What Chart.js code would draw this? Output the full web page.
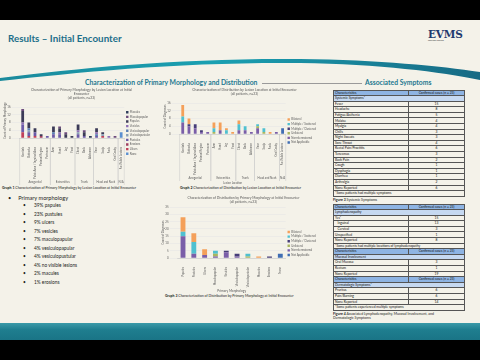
<!DOCTYPE html>
<html lang="en">
<head>
<meta charset="UTF-8" />
<title>Results - Initial Encounter</title>
<script src="https://cdn.jsdelivr.net/npm/chart.js"></script>
<style>
  html, body { margin: 0; padding: 0; }
  body {
    width: 480px; height: 360px; position: relative; overflow: hidden;
    background: #f4f2e9; font-family: Lato, "Open Sans", sans-serif; color: #222;
  }
  .abs { position: absolute; }
  .topbar { left: 0; top: 0; width: 480px; height: 20px; background: #000; }
  .botband { left: 0; top: 323px; width: 480px; height: 17px;
    background: linear-gradient(#3b9aa8, #1f7e8f 40%, #1a7486); }
  .botbar { left: 0; top: 340px; width: 480px; height: 20px; background: #000; }
  .title { left: 8px; top: 32px; font-size: 9.8px; font-weight: 700; color: #1d6f8a; white-space: nowrap; }
  .logo { left: 428px; top: 28px; font-family: "DejaVu Serif", "Liberation Serif", serif; font-weight: 700;
    font-size: 10.5px; color: #1f3a6e; letter-spacing: -0.2px; }
  .logo small { display: block; font-family: Lato, sans-serif; font-weight: 400; font-size: 1.6px; color: #555; margin-top: -1px; }
  .heading { font-size: 6.8px; font-weight: 700; color: #1d7890; white-space: nowrap; }
  .rule { height: 0.7px; background: #9a9a9a; }
  .caption { font-size: 3.5px; color: #222; white-space: nowrap; }
  .caption b { font-weight: 700; }
  .bul { font-size: 5.6px; left: 8px; white-space: nowrap; }
  .sub { font-size: 4.8px; white-space: nowrap; }
  .tbl { position: absolute; left: 333px; width: 131px; border-collapse: collapse; table-layout: fixed;
    font-size: 3.3px; color: #111; }
  .tbl td { border: 0.5px solid #555; height: 4.6px; padding: 0 1px; line-height: 4.5px; white-space: nowrap; overflow: hidden; }
  .tbl td.v { text-align: center; }
  .tbl tr.h td { background: #8eb4e3; }
  .tbl tr.s td { background: #c6d9f1; }
  canvas { position: absolute; }
</style>
</head>
<body>
<div class="abs topbar"></div>
<div class="abs title">Results – Initial Encounter</div>
<div class="abs logo">EVMS<small>Eastern Virginia Medical School</small></div>
<svg class="abs" style="left:0;top:0" width="480" height="100">
  <defs>
    <linearGradient id="sw" x1="0" x2="1" y1="0" y2="0">
      <stop offset="0" stop-color="#1b8a9c" />
      <stop offset="0.45" stop-color="#19a0b2" />
      <stop offset="1" stop-color="#176a84" />
    </linearGradient>
  </defs>
  <path d="M0,78 C80,68 180,58 300,59 C380,60 440,66 480,72 L480,80 C440,72 380,64 300,63 C180,62 80,72 0,81 Z" fill="url(#sw)" />
</svg>

<div class="abs heading" style="left:85px;top:78px">Characterization of Primary Morphology and Distribution</div>
<div class="abs rule" style="left:262px;top:83px;width:64px"></div>
<div class="abs rule" style="left:320px;top:83px;width:42px"></div>
<div class="abs heading" style="left:365px;top:78px">Associated Symptoms</div>

<canvas id="morphLocChart" width="158" height="100" style="left:2px;top:86px"></canvas>
<canvas id="distLocChart" width="164" height="100" style="left:162px;top:86px"></canvas>
<canvas id="distMorphChart" width="166" height="100" style="left:160px;top:194px"></canvas>

<div class="abs caption" style="left:2px;top:186px"><b>Graph 1</b> Characterization of Primary Morphology by Lesion Location at Initial Encounter</div>
<div class="abs caption" style="left:180px;top:186px"><b>Graph 2</b> Characterization of Distribution by Lesion Location at Initial Encounter</div>
<div class="abs caption" style="left:165px;top:294px"><b>Graph 3</b> Characterization of Distribution by Primary Morphology at Initial Encounter</div>

<div id="bullets"></div>

<table class="tbl" id="tbl1" style="top:89.5px"></table>
<div class="abs caption" style="left:333px;top:197.5px"><b>Figure 3</b> Systemic Symptoms</div>
<table class="tbl" id="tbl2" style="top:203.5px"></table>
<div class="abs caption" style="left:333px;top:311.5px;line-height:4.4px"><b>Figure 4</b> Associated Lymphadenopathy, Mucosal Involvement, and<br>Dermatologic Symptoms</div>

<div class="abs botband"></div>
<div class="abs botbar"></div>

<script>
    // lesion locations (graphs 1 and 2)
    locations = ['Genitals', 'Buttocks', 'Pubic Area / Inguinal Area', 'Perianal Region', 'Perineum',
        'Arm', 'Hand', 'Leg', 'Foot', 'Chest', 'Back', 'Abdomen',
        'Face', 'Scalp', 'Neck', 'Oral Cavity', 'No Visible Lesions'];
    locationGroups = ['Anogenital', 'Extremities', 'Trunk', 'Head and Neck', 'N/A'];
    locationGroupSizes = [5, 4, 3, 4, 1];

    // graph 1: primary morphology per location
    macules          = [0, 0, 0, 0, 0, 0, 0, 0, 0, 0, 0, 1, 0, 0, 0, 0, 0];
    maculopapular    = [1, 0, 0, 0, 0, 0, 1, 1, 0, 0, 1, 0, 0, 0, 0, 1, 0];
    papules          = [6, 3, 2, 1, 0, 3, 2, 2, 1, 3, 2, 0, 2, 1, 0, 0, 0];
    vesicles         = [1, 0, 0, 0, 0, 0, 1, 0, 0, 1, 0, 0, 1, 0, 1, 0, 0];
    vesiculopapular  = [0, 1, 0, 0, 0, 1, 0, 0, 0, 0, 0, 0, 1, 0, 0, 0, 0];
    vesiculopustular = [0, 1, 0, 0, 0, 0, 0, 0, 0, 1, 0, 0, 0, 1, 0, 0, 0];
    pustules         = [4, 2, 2, 0, 1, 2, 2, 0, 0, 2, 1, 0, 1, 0, 0, 0, 0];
    erosions         = [0, 0, 0, 1, 0, 0, 0, 0, 0, 0, 0, 0, 0, 0, 0, 0, 0];
    ulcers           = [3, 1, 1, 0, 0, 0, 0, 0, 0, 0, 0, 0, 0, 1, 0, 0, 0];
    noLesion         = [0, 0, 0, 0, 0, 0, 0, 0, 0, 0, 0, 0, 0, 0, 0, 0, 3];

    // graph 2: distribution per location
    locBilateral     = [6, 3, 0, 0, 0, 3, 4, 1, 1, 2, 0, 0, 0, 0, 1, 0, 0];
    locScattered     = [3, 0, 0, 0, 0, 2, 0, 2, 0, 3, 2, 0, 1, 2, 0, 0, 0];
    locClustered     = [0, 1, 2, 1, 0, 0, 0, 0, 0, 0, 0, 0, 0, 0, 0, 0, 0];
    locUnilateral    = [0, 0, 0, 0, 0, 1, 0, 0, 0, 0, 0, 0, 1, 1, 0, 0, 0];
    locNonDermatomal = [6, 4, 3, 1, 1, 0, 2, 0, 0, 2, 2, 1, 3, 0, 0, 1, 0];
    locNotApplicable = [0, 0, 0, 0, 0, 0, 0, 0, 0, 0, 0, 0, 0, 0, 0, 0, 3];

    // graph 3: distribution per primary morphology
    morphologies = ['Papules', 'Pustules', 'Ulcers', 'Maculopapular', 'Vesicles', 'Vesiculopapular',
        'Vesiculopustular', 'Macules', 'Erosions', 'None'];
    morphBilateral     = [10, 6, 4, 0, 0, 0, 0, 1, 0, 0];
    morphScattered     = [3, 8, 0, 2, 0, 0, 2, 0, 0, 0];
    morphClustered     = [0, 0, 0, 0, 1, 2, 0, 0, 1, 0];
    morphUnilateral    = [0, 0, 0, 2, 0, 0, 1, 0, 0, 0];
    morphNonDermatomal = [15, 3, 2, 1, 4, 1, 0, 0, 0, 0];
    morphNotApplicable = [0, 0, 0, 0, 0, 0, 0, 0, 0, 3];

    // bullet list
    morphologyPercents = ['39% papules', '23% pustules', '9% ulcers', '7% vesicles', '7% maculopapular',
        '4% vesiculopapular', '4% vesiculopustular', '4% no visible lesions', '2% macules', '1% erosions'];

    // tables
    systemicRows = [['Fever', 15], ['Headache', 8], ['Fatigue/Asthenia', 5], ['Malaise', 4], ['Myalgia', 4],
        ['Chills', 3], ['Night Sweats', 3], ['Sore Throat', 4], ['Rectal Pain/Proctitis', 6], ['Tenesmus', 3],
        ['Back Pain', 2], ['Cough', 1], ['Dysphagia', 1], ['Diarrhea', 1], ['Arthralgia', 2], ['None Reported', 6]];
    lymphRows = [['Yes*', 15], ['\u00a0\u00a0\u00a0Inguinal', 13], ['\u00a0\u00a0\u00a0Cervical', 3], ['Unspecified', 1], ['None Reported', 8]];
    mucosalRows = [['Oral Mucosa', 3], ['Rectum', 1], ['None Reported', 19]];
    dermRows = [['Pruritus', 6], ['Pain/Burning', 6], ['None Reported', 14]];

    Chart.defaults.font.family = 'Lato, "Open Sans", sans-serif';
    Chart.defaults.color = '#595959';

    // draws the second level of a multi level category axis
    const groupAxisPlugin = {
        id: 'groupAxis',
        afterDraw(chart, args, opts) {
            if (!opts.names) return;
            const x = chart.scales.x;
            const ctx = chart.ctx;
            const half = (x.getPixelForTick(1) - x.getPixelForTick(0)) / 2;
            const y = x.bottom + opts.offset;
            ctx.save();
            ctx.font = opts.size + 'px Lato';
            ctx.fillStyle = '#595959';
            ctx.textAlign = 'center';
            ctx.textBaseline = 'middle';
            ctx.strokeStyle = '#c8c8c8';
            ctx.lineWidth = 0.5;
            let start = 0;
            opts.names.forEach((name, i) => {
                const end = start + opts.sizes[i] - 1;
                const a = x.getPixelForTick(start) - half;
                const b = x.getPixelForTick(end) + half;
                ctx.fillText(name, (a + b) / 2, y);
                [a, b].forEach(px => {
                    ctx.beginPath();
                    ctx.moveTo(px, x.top);
                    ctx.lineTo(px, y + 2.5);
                    ctx.stroke();
                });
                start = end + 1;
            });
            if (opts.title) {
                ctx.fillText(opts.title, (chart.chartArea.left + chart.chartArea.right) / 2, y + 4.5);
            }
            ctx.restore();
        }
    };

    function tinyScales(yMax, yStep, yTitle, xTitle) {
        return {
            x: {
                stacked: true,
                grid: { display: false },
                border: { color: '#bfbfbf', width: 0.5 },
                ticks: { autoSkip: false, maxRotation: 90, minRotation: 90, font: { size: 2.8 }, padding: 1 },
                title: { display: !!xTitle, text: xTitle, font: { size: 3.2 }, padding: { top: 1, bottom: 0 } }
            },
            y: {
                stacked: true,
                min: 0,
                max: yMax,
                grid: { color: '#e4e4e4', lineWidth: 0.5 },
                border: { display: false },
                ticks: { stepSize: yStep, font: { size: 2.8 }, padding: 1 },
                title: { display: true, text: yTitle, font: { size: 2.8 }, padding: 0 }
            }
        };
    }

    function tinyLegend() {
        return {
            position: 'right',
            reverse: true,
            labels: { boxWidth: 2.4, boxHeight: 2.4, padding: 1.8, font: { size: 2.8 } }
        };
    }

    function tinyTitle(lines) {
        return { display: true, text: lines, font: { size: 3.4, weight: 'normal' }, padding: { top: 2, bottom: 3 }, color: '#595959' };
    }

    function ds(label, data, color, pct) {
        return { label: label, data: data, backgroundColor: color, barPercentage: pct, categoryPercentage: 1 };
    }

    new Chart(document.getElementById('morphLocChart'), {
        type: 'bar',
        data: {
            labels: locations,
            datasets: [
                ds('None', noLesion, '#5b8fd0', 0.45),
                ds('Ulcers', ulcers, '#c0405a', 0.45),
                ds('Erosions', erosions, '#9e3c5e', 0.45),
                ds('Pustules', pustules, '#6b5aa8', 0.45),
                ds('Vesiculopustular', vesiculopustular, '#8aa0b8', 0.45),
                ds('Vesiculopapular', vesiculopapular, '#5a7fb5', 0.45),
                ds('Vesicles', vesicles, '#8f6fb6', 0.45),
                ds('Papules', papules, '#3b3a57', 0.45),
                ds('Maculopapular', maculopapular, '#6d4c7d', 0.45),
                ds('Macules', macules, '#2e3d5c', 0.45)
            ]
        },
        options: {
            responsive: false,
            animation: false,
            devicePixelRatio: 1,
            layout: { padding: { bottom: 6, left: 1 } },
            plugins: {
                title: tinyTitle(['Characterization of Primary Morphology by Lesion Location at Initial', 'Encounter', '(all patients, n=23)']),
                legend: tinyLegend(),
                tooltip: { enabled: false },
                groupAxis: { names: locationGroups, sizes: locationGroupSizes, offset: 2.5, size: 2.8 }
            },
            scales: tinyScales(18, 2, 'Count of Primary Morphology', '')
        },
        plugins: [groupAxisPlugin]
    });

    const distColors = {
        bilateral: '#f4a05a', scattered: '#4fc0d0', clustered: '#463d78',
        unilateral: '#a9b660', nonDermatomal: '#7a5ea8', notApplicable: '#3f6db3'
    };

    new Chart(document.getElementById('distLocChart'), {
        type: 'bar',
        data: {
            labels: locations,
            datasets: [
                ds('Not Applicable', locNotApplicable, distColors.notApplicable, 0.45),
                ds('Non-dermatomal', locNonDermatomal, distColors.nonDermatomal, 0.45),
                ds('Unilateral', locUnilateral, distColors.unilateral, 0.45),
                ds('Multiple / Clustered', locClustered, distColors.clustered, 0.45),
                ds('Multiple / Scattered', locScattered, distColors.scattered, 0.45),
                ds('Bilateral', locBilateral, distColors.bilateral, 0.45)
            ]
        },
        options: {
            responsive: false,
            animation: false,
            devicePixelRatio: 1,
            layout: { padding: { bottom: 10, left: 1 } },
            plugins: {
                title: tinyTitle(['Characterization of Distribution by Lesion Location at Initial Encounter', '(all patients, n=23)']),
                legend: tinyLegend(),
                tooltip: { enabled: false },
                groupAxis: { names: locationGroups, sizes: locationGroupSizes, offset: 2.5, size: 2.8, title: 'Lesion Location' }
            },
            scales: tinyScales(18, 2, 'Count of Diagnoses', '')
        },
        plugins: [groupAxisPlugin]
    });

    new Chart(document.getElementById('distMorphChart'), {
        type: 'bar',
        data: {
            labels: morphologies,
            datasets: [
                ds('Not Applicable', morphNotApplicable, distColors.notApplicable, 0.45),
                ds('Non-dermatomal', morphNonDermatomal, distColors.nonDermatomal, 0.45),
                ds('Unilateral', morphUnilateral, distColors.unilateral, 0.45),
                ds('Multiple / Clustered', morphClustered, distColors.clustered, 0.45),
                ds('Multiple / Scattered', morphScattered, distColors.scattered, 0.45),
                ds('Bilateral', morphBilateral, distColors.bilateral, 0.45)
            ]
        },
        options: {
            responsive: false,
            animation: false,
            devicePixelRatio: 1,
            layout: { padding: { bottom: 1, left: 1 } },
            plugins: {
                title: tinyTitle(['Characterization of Distribution by Primary Morphology at Initial Encounter', '(all patients, n=23)']),
                legend: tinyLegend(),
                tooltip: { enabled: false }
            },
            scales: tinyScales(35, 5, 'Count of Diagnoses', 'Primary Morphology')
        }
    });

    // bullets
    let html = '<div class="abs bul" style="top:193.5px">\u2022<span style="margin-left:7px">Primary morphology</span></div>';
    morphologyPercents.forEach((t, i) => {
        html += `<div class="abs sub" style="left:23px;top:${202.2 + i * 8.5}px">\u2022<span style="position:absolute;left:11px">${t}</span></div>`;
    });
    document.getElementById('bullets').innerHTML = html;

    // tables
    function headerRow() {
        return '<tr class="h"><td>Characteristics</td><td class="v">Confirmed cases (n = 23)</td></tr>';
    }
    function sectionRow(name) {
        return `<tr class="s"><td colspan="2">${name}</td></tr>`;
    }
    function dataRows(rows) {
        return rows.map(r => `<tr><td>${r[0]}</td><td class="v">${r[1]}</td></tr>`).join('');
    }
    function noteRow(text) {
        return `<tr><td colspan="2">${text}</td></tr>`;
    }
    const colgroup = '<colgroup><col style="width:75px"><col style="width:56px"></colgroup>';

    document.getElementById('tbl1').innerHTML = colgroup + headerRow() + sectionRow('Systemic Symptoms*') +
        dataRows(systemicRows) + noteRow('*Some patients had multiple symptoms');

    document.getElementById('tbl2').innerHTML = colgroup +
        headerRow() + sectionRow('Lymphadenopathy') + dataRows(lymphRows) +
        noteRow('*Some patients had multiple locations of lymphadenopathy') +
        headerRow() + sectionRow('Mucosal Involvement') + dataRows(mucosalRows) +
        headerRow() + sectionRow('Dermatologic Symptoms*') + dataRows(dermRows) +
        noteRow('*Some patients experienced multiple symptoms');
</script>
</body>
</html>
